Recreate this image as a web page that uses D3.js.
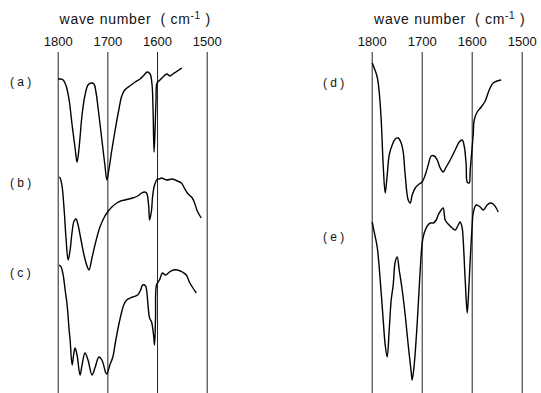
<!DOCTYPE html>
<html lang="en">
<head>
<meta charset="UTF-8"/>
<title>IR spectra (a)-(e)</title>
<script src="https://d3js.org/d3.v7.min.js"></script>
<style>
  body { margin: 0; background: #fff; }
  text { font-family: "Liberation Sans", Arial, sans-serif; fill: #111; }
</style>
</head>
<body>
<script>
    // Tick values on the wave number axis
    var ticks = [1800, 1700, 1600, 1500];

    // Spectra: wave number (cm-1) and relative transmittance (arb. units, traces offset)
    var wnA = [1799,1795,1789,1783,1777,1771,1765,1761,1757,1751,1745,1739,1733,1727,1723,1717,1711,1705,1701,1697,1691,1685,1677,1671,1665,1655,1644,1634,1626,1620,1614,1610,1608,1606,1604,1602,1600,1594,1588,1580,1574,1568,1562,1556,1550];
    var tA  = [314,314,313,307,293,268,245,231,245,278,298,308,310,309,301,278,253,228,213,223,243,261,283,297,303,307,311,314,318,321,319,308,283,241,263,293,310,313,316,319,317,319,321,323,325];

    var wnB = [1797,1795,1791,1787,1783,1779,1775,1771,1767,1763,1759,1753,1747,1741,1737,1731,1725,1715,1707,1701,1691,1681,1673,1665,1657,1649,1639,1631,1625,1621,1617,1615,1611,1609,1605,1599,1595,1591,1581,1569,1559,1551,1545,1539,1529,1523,1519,1511];
    var tB  = [216,215,206,183,153,133,143,161,172,174,168,153,138,127,123,135,148,166,175,180,186,190,192,193,194,195,197,200,201,200,188,173,183,196,208,214,214,215,213,214,212,210,205,200,195,188,182,175];

    var wnC = [1797,1793,1789,1785,1781,1777,1775,1771,1768,1765,1761,1755,1751,1745,1739,1731,1725,1717,1711,1703,1701,1695,1689,1683,1675,1667,1661,1649,1639,1633,1629,1623,1621,1619,1615,1611,1607,1605,1603,1601,1595,1589,1583,1575,1567,1559,1549,1541,1535,1529,1521];
    var tC  = [128,126,118,103,88,63,53,28,38,45,38,18,28,40,33,18,25,36,33,20,19,28,36,53,73,88,93,96,98,103,108,107,103,93,75,71,58,48,75,108,113,120,118,121,123,123,121,118,111,106,100];

    var wnD = [1799,1795,1789,1785,1781,1777,1773,1769,1765,1759,1753,1747,1741,1737,1733,1727,1723,1719,1713,1705,1699,1693,1687,1681,1675,1669,1663,1657,1651,1643,1633,1625,1619,1615,1611,1609,1605,1603,1597,1595,1589,1581,1573,1565,1557,1549,1541];
    var tD  = [330,325,316,301,273,228,200,218,238,248,254,255,250,241,218,193,190,198,205,209,211,218,228,237,237,233,225,221,226,233,243,251,253,247,228,211,210,223,258,273,281,286,292,303,310,312,313];

    var wnE = [1799,1795,1789,1783,1777,1773,1769,1765,1761,1757,1753,1749,1745,1739,1733,1727,1721,1719,1715,1709,1703,1699,1695,1689,1683,1677,1671,1667,1661,1657,1653,1647,1639,1633,1627,1623,1619,1617,1613,1609,1607,1603,1599,1597,1591,1583,1577,1569,1563,1557,1551,1547];
    var tE  = [171,161,146,113,73,48,36,63,93,108,131,136,123,103,78,48,21,13,28,70,123,150,160,167,170,170,173,178,183,185,173,169,165,163,168,171,165,153,113,80,93,133,168,180,188,186,183,188,190,189,185,181];

    var labelsLeft  = ["(a)", "(b)", "(c)"];
    var labelsRight = ["(d)", "(e)"];

    var w = 541, h = 393;
    var gridTop = 52;

    var svg = d3.select("body")
                .append("svg")
                .attr("width", w)
                .attr("height", h);

    // Shared vertical scale for the stacked traces
    var y = d3.scaleLinear().domain([0, 340]).range([393, 53]);

    var line = function(x) {
        return d3.line()
            .x(function(d) { return x(d[0]); })
            .y(function(d) { return y(d[1]); })
            .curve(d3.curveCatmullRom.alpha(0.5));
    };

    // Draw one panel: axis with full-height grid lines, title, spectra, labels
    function panel(x0, x1, series, labels, labelX) {
        var x = d3.scaleLinear().domain([1800, 1500]).range([x0, x1]);
        var g = svg.append("g");

        var axis = d3.axisTop(x)
            .tickValues(ticks)
            .tickSizeInner(-(h - gridTop))
            .tickSizeOuter(0)
            .tickPadding(6)
            .tickFormat(d3.format("d"));

        var ag = g.append("g")
            .attr("transform", "translate(0," + gridTop + ")")
            .call(axis);
        ag.select(".domain").remove();
        ag.selectAll(".tick line").attr("stroke", "#222").attr("stroke-width", 1);
        ag.selectAll(".tick text")
            .attr("font-size", "13px")
            .attr("font-family", "Liberation Sans, Arial, sans-serif")
            .attr("fill", "#111");

        var title = g.append("text")
            .attr("x", (x0 + x1) / 2 + 3)
            .attr("y", 24)
            .attr("text-anchor", "middle")
            .attr("font-size", "14px")
            .attr("letter-spacing", "0.7px")
            .attr("xml:space", "preserve")
            .style("white-space", "pre");
        title.append("tspan").text("wave number  ( cm");
        title.append("tspan").attr("font-size", "10px").attr("dy", "-5").text("-1");
        title.append("tspan").attr("dy", "5").text(" )");

        series.forEach(function(s, i) {
            var pts = d3.zip(s.wn, s.t);
            g.append("path")
                .datum(pts)
                .attr("fill", "none")
                .attr("stroke", "#000")
                .attr("stroke-width", 1.4)
                .attr("stroke-linejoin", "round")
                .attr("d", line(x));

            g.append("text")
                .attr("x", labelX)
                .attr("y", y(s.labelAt))
                .attr("font-size", "12px")
                .attr("dy", "0.35em")
                .text(labels[i].split("").join(" "));
        });
    }

    panel(57.7, 206.7, [
        { wn: wnA, t: tA, labelAt: 311 },
        { wn: wnB, t: tB, labelAt: 210 },
        { wn: wnC, t: tC, labelAt: 120 }
    ], labelsLeft, 10);

    panel(371.7, 521.7, [
        { wn: wnD, t: tD, labelAt: 310 },
        { wn: wnE, t: tE, labelAt: 156 }
    ], labelsRight, 323);
</script>
</body>
</html>
